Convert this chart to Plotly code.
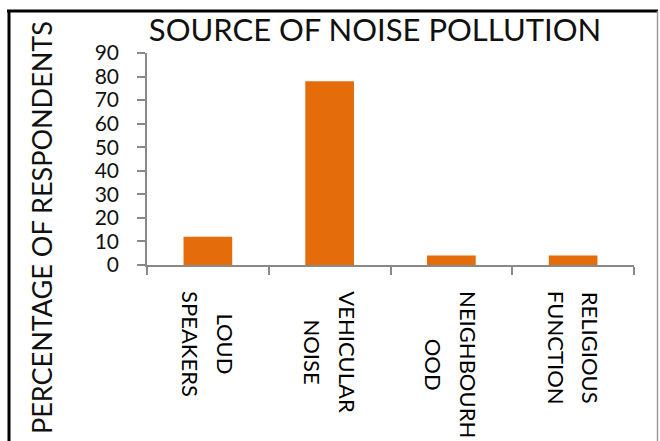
import plotly.graph_objects as go

# ---- data -------------------------------------------------------------
categories = ["LOUD SPEAKERS", "VEHICULAR NOISE", "NEIGHBOURHOOD", "RELIGIOUS FUNCTION"]
label_line1 = ["LOUD", "VEHICULAR", "NEIGHBOURH", "RELIGIOUS"]
label_line2 = ["SPEAKERS", "NOISE", "OOD", "FUNCTION"]
percent = [12, 78, 4, 4]
y_ticks = [0, 10, 20, 30, 40, 50, 60, 70, 80, 90]

# ---- geometry ---------------------------------------------------------
W, H = 660, 441
ML, MR, MT, MB = 147, 26, 53, 176
PW, PH = W - ML - MR, H - MT - MB

def px_x(x):
    return (x - ML) / PW

def px_y(y):
    return (H - MB - y) / PH

FONT = "Lato"
BAR = "#E46C0A"
AXIS = "#898989"

fig = go.Figure(
    go.Bar(
        x=categories,
        y=percent,
        width=0.4,
        marker=dict(color=BAR, line=dict(width=0)),
        hoverinfo="x+y",
    )
)

annotations = []
# two-line category labels, rotated, centred block under each category;
# each line is drawn as its own block (the other line kept invisible)
# so the lines can be spread a little further apart
hidden = "<span style='color:rgba(0,0,0,0)'>{}</span>"
for cat, l1, l2 in zip(categories, label_line1, label_line2):
    for text, shift in ((l1 + "<br>" + hidden.format(l2), 3),
                        (hidden.format(l1) + "<br>" + l2, -3)):
        annotations.append(dict(
            x=cat, xref="x", y=px_y(289), yref="paper",
            text=text, textangle=90, showarrow=False,
            xanchor="center", yanchor="top", align="center",
            xshift=shift,
            font=dict(family=FONT, size=22, color="#000000"),
        ))

# y-axis title
annotations.append(dict(
    x=px_x(41), xref="paper", y=px_y(228), yref="paper",
    text="PERCENTAGE OF RESPONDENTS", textangle=-90, showarrow=False,
    xanchor="center", yanchor="middle",
    font=dict(family=FONT, size=27, color="#111111"),
))

# outer frame of the chart
shapes = [
    dict(type="line", xref="paper", yref="paper",
         x0=px_x(7), x1=px_x(658), y0=px_y(11), y1=px_y(11),
         line=dict(color="#000000", width=3)),
    dict(type="line", xref="paper", yref="paper",
         x0=px_x(9), x1=px_x(9), y0=px_y(10), y1=px_y(450),
         line=dict(color="#000000", width=3)),
    dict(type="line", xref="paper", yref="paper",
         x0=px_x(657.5), x1=px_x(657.5), y0=px_y(11), y1=px_y(450),
         line=dict(color="#9a9a9a", width=1.5)),
]

fig.update_layout(
    width=W, height=H,
    margin=dict(l=ML, r=MR, t=MT, b=MB, autoexpand=False),
    paper_bgcolor="#ffffff", plot_bgcolor="#ffffff",
    showlegend=False,
    title=dict(
        text="SOURCE OF NOISE POLLUTION",
        x=375 / W, xanchor="center", xref="container",
        y=1 - 30 / H, yanchor="middle", yref="container",
        font=dict(family=FONT, size=31, color="#111111"),
    ),
    xaxis=dict(
        type="category",
        tickson="boundaries",
        ticks="outside", ticklen=8, tickwidth=1.5, tickcolor=AXIS,
        showline=True, linecolor=AXIS, linewidth=1.5,
        showticklabels=False, showgrid=False, zeroline=False,
        fixedrange=True,
    ),
    yaxis=dict(
        range=[0, 90],
        tickvals=y_ticks,
        ticks="outside", ticklen=8, tickwidth=1.5, tickcolor=AXIS,
        showline=True, linecolor=AXIS, linewidth=1.5,
        showgrid=False, zeroline=False,
        ticklabelstandoff=14,
        tickfont=dict(family=FONT, size=21, color="#111111"),
        fixedrange=True,
    ),
    annotations=annotations,
    shapes=shapes,
    bargap=0.6,
)

fig.write_html("out.html")
